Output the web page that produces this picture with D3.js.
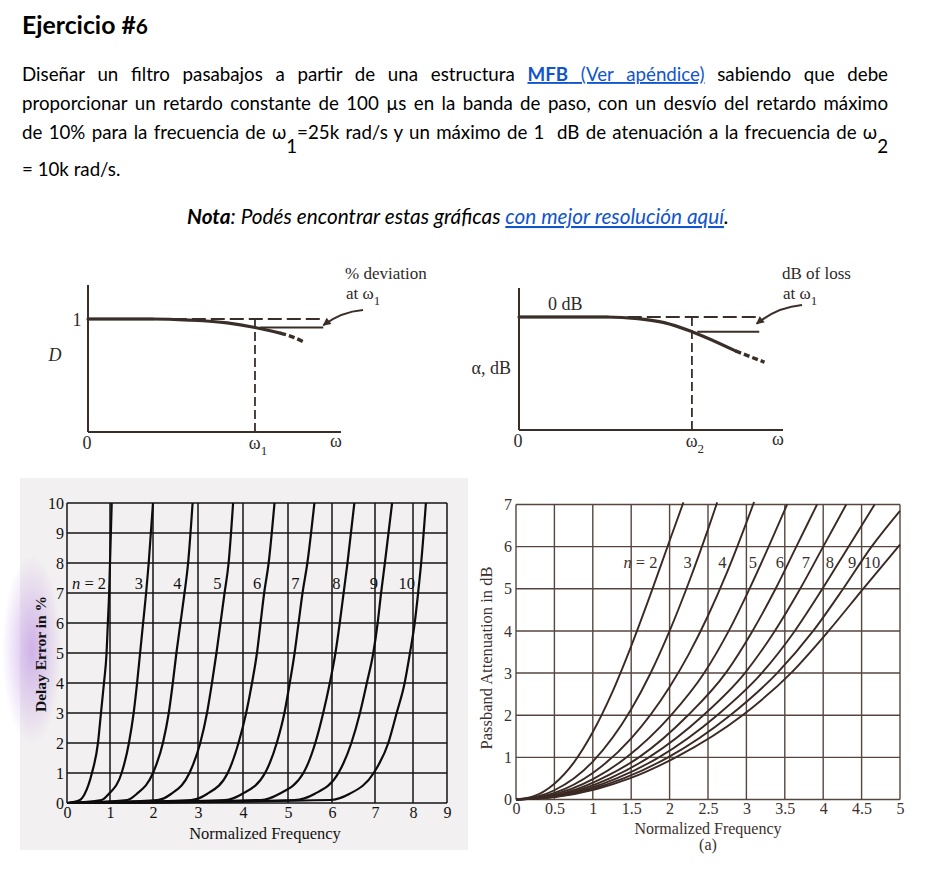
<!DOCTYPE html>
<html><head><meta charset="utf-8">
<script src="https://cdn.jsdelivr.net/npm/d3@7"></script>
<style>
html,body{margin:0;padding:0;background:#fff;}
svg{display:block;}
</style></head><body>
<script>
// ================= DATA =================
const headingText = ["Ejercicio #", "6"];
const paragraphLines = [
  [{t:"Diseñar un filtro pasabajos a partir de una estructura "},{t:"MFB",k:"linkb"},{t:" (Ver apéndice)",k:"link"},{t:" sabiendo que debe"}],
  [{t:"proporcionar un retardo constante de 100 µs en la banda de paso, con un desvío del retardo máximo"}],
  [{t:"de 10% para la frecuencia de ω"},{t:"1",k:"sub"},{t:"=25k rad/s y un máximo de 1  dB de atenuación a la frecuencia de ω"},{t:"2",k:"sub"}],
  [{t:"= 10k rad/s."}]
];
const notaLine = [{t:"Nota",k:"bi"},{t:": Podés encontrar estas gráficas ",k:"i"},{t:"con mejor resolución aquí",k:"ilink"},{t:".",k:"i"}];

// Schematic 1: normalized delay D vs normalized ω
const d1Curve = [[0,1],[0.25,1],[0.4,0.99],[0.55,0.965],[0.66,0.925],[0.76,0.875]];
const d1CurveDash = [[0.76,0.875],[0.81,0.84],[0.85,0.8]];
const d1Omega1 = 0.66;
// Schematic 2: relative level vs normalized ω
const d2Curve = [[0,1],[0.33,1],[0.45,0.985],[0.55,0.95],[0.655,0.87],[0.82,0.7]];
const d2CurveDash = [[0.82,0.7],[0.88,0.645],[0.93,0.6]];
const d2Omega2 = 0.655;

// Delay error chart (frequency at which each delay-error level is reached)
const delayLevels   = [0, 0.1, 0.3, 1, 2, 3, 4, 5, 6, 7, 8, 10];
const delayFreqN2  = [0, 0.30, 0.41, 0.58, 0.72, 0.79, 0.86, 0.92, 0.95, 0.98, 1.00, 1.04];
const delayFreqN3  = [0, 0.80, 0.97, 1.27, 1.44, 1.55, 1.63, 1.70, 1.77, 1.84, 1.90, 2.00];
const delayFreqN4  = [0, 1.40, 1.62, 2.00, 2.22, 2.35, 2.44, 2.52, 2.61, 2.70, 2.78, 2.88];
const delayFreqN5  = [0, 2.10, 2.40, 2.81, 3.05, 3.20, 3.31, 3.41, 3.50, 3.59, 3.68, 3.78];
const delayFreqN6  = [0, 2.85, 3.20, 3.66, 3.90, 4.07, 4.20, 4.31, 4.39, 4.47, 4.57, 4.70];
const delayFreqN7  = [0, 3.60, 3.98, 4.49, 4.75, 4.92, 5.04, 5.15, 5.24, 5.33, 5.44, 5.60];
const delayFreqN8  = [0, 4.40, 4.80, 5.35, 5.62, 5.80, 5.95, 6.08, 6.18, 6.27, 6.36, 6.52];
const delayFreqN9  = [0, 5.15, 5.60, 6.15, 6.45, 6.65, 6.81, 6.96, 7.07, 7.16, 7.26, 7.45];
const delayFreqN10 = [0, 5.95, 6.40, 6.97, 7.35, 7.57, 7.78, 7.92, 8.05, 8.15, 8.24, 8.38];
const delayOrders = ["2","3","4","5","6","7","8","9","10"];
const delayXTicks = [0,1,2,3,4,5,6,7,8,9];
const delayYTicks = [0,1,2,3,4,5,6,7,8,9,10];

// Passband attenuation chart ([normalized frequency, dB])
const attenN2  = [[0,0],[0.25,0.09],[0.5,0.375],[0.75,0.87],[1,1.6],[1.25,2.53],[1.5,3.64],[1.75,4.86],[2,6.14],[2.18,7.05]];
const attenN3  = [[0,0],[0.25,0.055],[0.5,0.22],[1,0.9],[1.5,2.14],[1.75,2.99],[2,4.0],[2.25,5.15],[2.5,6.41],[2.62,7.05]];
const attenN4  = [[0,0],[0.25,0.039],[0.5,0.156],[1,0.63],[1.5,1.45],[2,2.67],[2.25,3.45],[2.5,4.36],[2.75,5.4],[3,6.57],[3.1,7.06]];
const attenN5  = [[0,0],[0.35,0.06],[0.72,0.25],[1.02,0.5],[1.44,1],[2.02,2],[2.45,3],[2.77,4],[3.04,5],[3.29,6],[3.53,7]];
const attenN6  = [[0,0],[0.39,0.06],[0.8,0.25],[1.12,0.5],[1.6,1],[2.24,2],[2.73,3],[3.08,4],[3.38,5],[3.65,6],[3.92,7]];
const attenN7  = [[0,0],[0.42,0.06],[0.865,0.25],[1.22,0.5],[1.73,1],[2.44,2],[2.98,3],[3.37,4],[3.7,5],[4.0,6],[4.3,7]];
const attenN8  = [[0,0],[0.455,0.06],[0.93,0.25],[1.31,0.5],[1.86,1],[2.62,2],[3.2,3],[3.63,4],[3.99,5],[4.33,6],[4.67,7]];
const attenN9  = [[0,0],[0.485,0.06],[0.99,0.25],[1.4,0.5],[1.98,1],[2.79,2],[3.4,3],[3.87,4],[4.26,5],[4.63,6],[5.0,6.85]];
const attenN10 = [[0,0],[0.51,0.06],[1.05,0.25],[1.48,0.5],[2.08,1],[2.95,2],[3.58,3],[4.07,4],[4.52,5],[5.0,6.05]];
const attenOrders = ["2","3","4","5","6","7","8","9","10"];
const attenXTicks = [0,0.5,1,1.5,2,2.5,3,3.5,4,4.5,5];
const attenYTicks = [0,1,2,3,4,5,6,7];

// ================= DRAWING =================
const W = 941, H = 878;
const svg = d3.select("body").append("svg").attr("width", W).attr("height", H);
const sans = "Lato, 'Open Sans', sans-serif";
const serif = "'Liberation Serif', 'Times New Roman', serif";
const linkColor = "#1155cc";

// ---- heading (fit to the original width) ----
const hd = svg.append("text").attr("x", 22).attr("y", 34)
  .attr("font-family", sans).attr("font-weight", 700).attr("font-size", 19).attr("fill", "#000");
hd.append("tspan").attr("class", "h0").text(headingText[0]);
hd.append("tspan").attr("class", "h1").attr("font-size", 16).text(headingText[1]);
{
  const L = hd.node().getComputedTextLength();
  const k = 126 / L;
  hd.select(".h0").attr("font-size", 19 * k);
  hd.select(".h1").attr("font-size", 16 * k);
}

// ---- paragraph ----
const baselines = [81, 110, 139, 176];
function buildLine(segs, i, fs) {
  const t = svg.append("text").attr("x", 22).attr("y", baselines[i])
    .attr("font-family", sans).attr("font-size", fs).attr("fill", "#000")
    .style("white-space", "pre");
  let sub = false;
  segs.forEach(s => {
    const ts = t.append("tspan").text(s.t);
    if (s.k === "link" || s.k === "linkb") {
      ts.attr("fill", linkColor).attr("text-decoration", "underline");
      if (s.k === "linkb") ts.attr("font-weight", 700);
    }
    if (s.k === "sub") { ts.attr("dy", 14); sub = true; }
    else if (sub) { ts.attr("dy", -14); sub = false; }
  });
  return t;
}
let fs = 17;
{
  const probe = buildLine(paragraphLines[1], 1, fs);
  const L = probe.node().getComputedTextLength();
  fs = fs * 822 / L;
  probe.remove();
}
paragraphLines.forEach((segs, i) => {
  const t = buildLine(segs, i, fs);
  if (i < 3) {
    const L = t.node().getComputedTextLength();
    const nSp = (segs.map(s => s.t).join("").match(/ /g) || []).length;
    t.style("word-spacing", ((866 - L) / nSp) + "px");
  }
});

// ---- nota (fit to original width) ----
const nt = svg.append("text").attr("x", 458).attr("y", 224).attr("text-anchor", "middle")
  .attr("font-family", sans).attr("font-size", fs).attr("fill", "#000").style("white-space", "pre");
notaLine.forEach(s => {
  const ts = nt.append("tspan").text(s.t).attr("font-style", "italic");
  if (s.k === "bi") ts.attr("font-weight", 700);
  if (s.k === "ilink") ts.attr("fill", linkColor).attr("text-decoration", "underline");
});
{
  const L = nt.node().getComputedTextLength();
  nt.attr("font-size", fs * 542 / L);
}

// ---- schematic diagrams ----
const ink = "#3a2e29";
const defs = svg.append("defs");
defs.append("marker").attr("id", "arr").attr("viewBox", "0 0 10 10").attr("refX", 9).attr("refY", 5)
  .attr("markerWidth", 5.5).attr("markerHeight", 4).attr("markerUnits", "strokeWidth").attr("orient", "auto")
  .append("path").attr("d", "M0,0 L10,5 L0,10 Z").attr("fill", ink);

function schematic(opts) {
  const g = svg.append("g");
  const x = d3.scaleLinear().domain([0, 1]).range(opts.xr);
  const y = d3.scaleLinear().domain([0, 1]).range(opts.yr);
  const wc = opts.wc;
  const lvl = opts.level;
  g.append("line").attr("x1", x(0)).attr("x2", x(0)).attr("y1", y(0)).attr("y2", y(opts.ytop))
    .attr("stroke", ink).attr("stroke-width", 2);
  g.append("line").attr("x1", x(0)).attr("x2", x(1)).attr("y1", y(0)).attr("y2", y(0))
    .attr("stroke", ink).attr("stroke-width", 2);
  g.append("line").attr("x1", x(0)).attr("x2", x(opts.solidEnd)).attr("y1", y(1)).attr("y2", y(1))
    .attr("stroke", ink).attr("stroke-width", 2.4);
  g.append("line").attr("x1", x(opts.solidEnd)).attr("x2", x(opts.refEnd)).attr("y1", y(1)).attr("y2", y(1))
    .attr("stroke", ink).attr("stroke-width", 2).attr("stroke-dasharray", "14,5");
  g.append("line").attr("x1", x(wc + 0.02)).attr("x2", x(opts.refEnd)).attr("y1", y(lvl)).attr("y2", y(lvl))
    .attr("stroke", ink).attr("stroke-width", 2);
  g.append("line").attr("x1", x(wc)).attr("x2", x(wc)).attr("y1", y(1)).attr("y2", y(0))
    .attr("stroke", ink).attr("stroke-width", 1.8).attr("stroke-dasharray", "9,4");
  const ln = d3.line().x(d => x(d[0])).y(d => y(d[1])).curve(d3.curveMonotoneX);
  g.append("path").attr("d", ln(opts.curve)).attr("fill", "none").attr("stroke", ink)
    .attr("stroke-width", 3.2).attr("stroke-linecap", "round");
  g.append("path").attr("d", ln(opts.dash)).attr("fill", "none").attr("stroke", ink)
    .attr("stroke-width", 3.4).attr("stroke-dasharray", "6,3");
  const a0 = [x(opts.arrow[0][0]), y(opts.arrow[0][1])];
  const a1 = [x(opts.arrow[1][0]), y(opts.arrow[1][1])];
  const cp = [a1[0] + (a0[0] - a1[0]) * 0.45, a0[1] + (a1[1] - a0[1]) * 0.12];
  g.append("path").attr("d", `M${a0[0]},${a0[1]} Q${cp[0]},${cp[1]} ${a1[0]},${a1[1]}`)
    .attr("fill", "none").attr("stroke", ink).attr("stroke-width", 2).attr("marker-end", "url(#arr)");
  const txt = (tx, ty, s, anchor, extra, size) => {
    const t = g.append("text").attr("x", tx).attr("y", ty).attr("font-family", serif)
      .attr("font-size", size || 18).attr("fill", "#2e2a28").attr("text-anchor", anchor || "start");
    if (extra) extra(t); else t.text(s);
    return t;
  };
  const omega = (t, sub) => { t.append("tspan").text("ω"); t.append("tspan").attr("dy", 6).attr("font-size", 13).text(sub); };
  txt(x(0) - 1, y(0) + 17, "0", "middle");
  txt(x(wc) + 3, y(0) + 17, "", "middle", t => omega(t, opts.sub));
  txt(x(1) - 5, y(0) + 15, "ω", "middle");
  txt(opts.lab[0], opts.lab[1], opts.lab1, "start", null, 17);
  txt(opts.lab[0] + 1, opts.lab[1] + 20, "", "start", t => { t.append("tspan").text("at "); omega(t, "1"); }, 17);
  return {g, x, y, txt};
}

const s1 = schematic({xr: [88, 341], yr: [432, 319], ytop: 1.3, solidEnd: 0.26, refEnd: 0.93, wc: d1Omega1,
  level: 0.925, curve: d1Curve, dash: d1CurveDash, arrow: [[1.087, 1.08], [0.93, 0.945]], sub: "1",
  lab: [345, 279], lab1: "% deviation"});
s1.txt(77, 326, "1", "middle");
s1.txt(55, 361, "D", "middle").attr("font-style", "italic").attr("font-size", 18);

const s2 = schematic({xr: [519, 783], yr: [430, 317], ytop: 1.257, solidEnd: 0.34, refEnd: 0.91, wc: d2Omega2,
  level: 0.87, curve: d2Curve, dash: d2CurveDash, arrow: [[1.072, 1.106], [0.9, 0.94]], sub: "2",
  lab: [782, 279], lab1: "dB of loss"});
s2.txt(548, 310, "0 dB", "start");
s2.txt(511, 374, "α, dB", "end");

// ---- scanned-page background for delay chart ----
const grad = defs.append("radialGradient").attr("id", "smudge");
grad.append("stop").attr("offset", "0%").attr("stop-color", "#c6a2e6").attr("stop-opacity", 0.8);
grad.append("stop").attr("offset", "100%").attr("stop-color", "#c6a2e6").attr("stop-opacity", 0);
svg.append("rect").attr("x", 20).attr("y", 478).attr("width", 448).attr("height", 372).attr("fill", "#f2f0f0");
svg.append("ellipse").attr("cx", 32).attr("cy", 650).attr("rx", 30).attr("ry", 95).attr("fill", "url(#smudge)");

// ---- Delay error chart ----
(function () {
  const g = svg.append("g");
  const x = d3.scaleLinear().domain(delayXTicks).range([67, 110, 153, 198, 243, 288, 332, 375, 413, 447]);
  const y = d3.scaleLinear().domain([0, 10]).range([803, 503]);
  const gc = "#151515";
  g.selectAll(".hg").data(delayYTicks).join("line")
    .attr("x1", x(0)).attr("x2", x(9)).attr("y1", d => y(d)).attr("y2", d => y(d))
    .attr("stroke", gc).attr("stroke-width", 1.5);
  g.selectAll(".vg").data(delayXTicks).join("line")
    .attr("x1", d => x(d)).attr("x2", d => x(d)).attr("y1", y(0)).attr("y2", y(10))
    .attr("stroke", gc).attr("stroke-width", 1.5);
  const series = [delayFreqN2, delayFreqN3, delayFreqN4, delayFreqN5, delayFreqN6, delayFreqN7, delayFreqN8, delayFreqN9, delayFreqN10];
  const ln = d3.line().x(d => x(d[0])).y(d => y(d[1])).curve(d3.curveMonotoneX);
  series.forEach((fr, i) => {
    const pts = fr.map((f, j) => [f, delayLevels[j]]);
    g.append("path").attr("d", ln(pts)).attr("fill", "none").attr("stroke", "#0d0d0d").attr("stroke-width", 2.2);
    const xi = fr[delayLevels.indexOf(7)];
    const t = g.append("text").attr("x", x(xi) - 3).attr("y", y(7) - 4).attr("text-anchor", "end")
      .attr("font-family", serif).attr("font-size", 16.5).attr("fill", "#111");
    if (i === 0) { t.append("tspan").attr("font-style", "italic").text("n"); t.append("tspan").text(" = " + delayOrders[i]); }
    else t.text(delayOrders[i]);
  });
  const ax = d3.axisLeft(y).tickValues(delayYTicks).tickSize(0).tickPadding(3).tickFormat(d3.format("d"));
  const ay = g.append("g").attr("transform", `translate(${x(0)},0)`).call(ax);
  const bx = d3.axisBottom(x).tickValues(delayXTicks).tickSize(0).tickPadding(4).tickFormat(d3.format("d"));
  const by = g.append("g").attr("transform", `translate(0,${y(0)})`).call(bx);
  [ay, by].forEach(a => { a.select(".domain").remove(); a.selectAll("text").attr("font-family", serif).attr("font-size", 16).attr("fill", "#111"); });
  g.append("text").attr("x", 265).attr("y", 839).attr("text-anchor", "middle").attr("font-family", serif)
    .attr("font-size", 16.5).attr("fill", "#111").text("Normalized Frequency");
  g.append("text").attr("transform", "translate(46,654) rotate(-90)").attr("text-anchor", "middle")
    .attr("font-family", serif).attr("font-size", 15.5).attr("font-weight", 700).attr("fill", "#111").text("Delay Error in %");
})();

// ---- Passband attenuation chart ----
(function () {
  const g = svg.append("g");
  const x = d3.scaleLinear().domain([0, 5]).range([516, 900]);
  const y = d3.scaleLinear().domain([0, 7]).range([799.5, 504.5]);
  const gc = "#55463f", cc = "#3b2a24", tc = "#3b302d";
  g.selectAll(".hg").data(attenYTicks).join("line")
    .attr("x1", x(0)).attr("x2", x(5)).attr("y1", d => y(d)).attr("y2", d => y(d))
    .attr("stroke", gc).attr("stroke-width", 1.4);
  g.selectAll(".vg").data(attenXTicks).join("line")
    .attr("x1", d => x(d)).attr("x2", d => x(d)).attr("y1", y(0)).attr("y2", y(7))
    .attr("stroke", gc).attr("stroke-width", 1.4);
  const series = [attenN2, attenN3, attenN4, attenN5, attenN6, attenN7, attenN8, attenN9, attenN10];
  const ln = d3.line().x(d => x(d[0])).y(d => y(d[1])).curve(d3.curveMonotoneX);
  const xAt = (pts, v) => {
    for (let k = 1; k < pts.length; k++) if (pts[k][1] >= v) {
      const [a, b] = [pts[k - 1], pts[k]];
      return a[0] + (b[0] - a[0]) * (v - a[1]) / (b[1] - a[1]);
    }
    return pts[pts.length - 1][0];
  };
  series.forEach((pts, i) => {
    g.append("path").attr("d", ln(pts)).attr("fill", "none").attr("stroke", cc).attr("stroke-width", 1.9);
    const t = g.append("text").attr("x", x(xAt(pts, 5.6)) - 4).attr("y", y(5.5)).attr("text-anchor", "end")
      .attr("font-family", serif).attr("font-size", 16.5).attr("fill", tc);
    if (i === 0) { t.append("tspan").attr("font-style", "italic").text("n"); t.append("tspan").text(" = " + attenOrders[i]); }
    else t.text(attenOrders[i]);
  });
  const ax = d3.axisLeft(y).tickValues(attenYTicks).tickSize(0).tickPadding(4).tickFormat(d3.format("d"));
  const ay = g.append("g").attr("transform", `translate(${x(0)},0)`).call(ax);
  const bx = d3.axisBottom(x).tickValues(attenXTicks).tickSize(0).tickPadding(3).tickFormat(d => String(d));
  const by = g.append("g").attr("transform", `translate(0,${y(0)})`).call(bx);
  [ay, by].forEach(a => { a.select(".domain").remove(); a.selectAll("text").attr("font-family", serif).attr("font-size", 16).attr("fill", tc); });
  g.append("text").attr("x", 708).attr("y", 834).attr("text-anchor", "middle").attr("font-family", serif)
    .attr("font-size", 16).attr("fill", tc).text("Normalized Frequency");
  g.append("text").attr("x", 708).attr("y", 850).attr("text-anchor", "middle").attr("font-family", serif)
    .attr("font-size", 16).attr("fill", tc).text("(a)");
  g.append("text").attr("transform", "translate(492,658) rotate(-90)").attr("text-anchor", "middle")
    .attr("font-family", serif).attr("font-size", 16.5).attr("fill", tc).text("Passband Attenuation in dB");
})();
</script>
</body></html>
